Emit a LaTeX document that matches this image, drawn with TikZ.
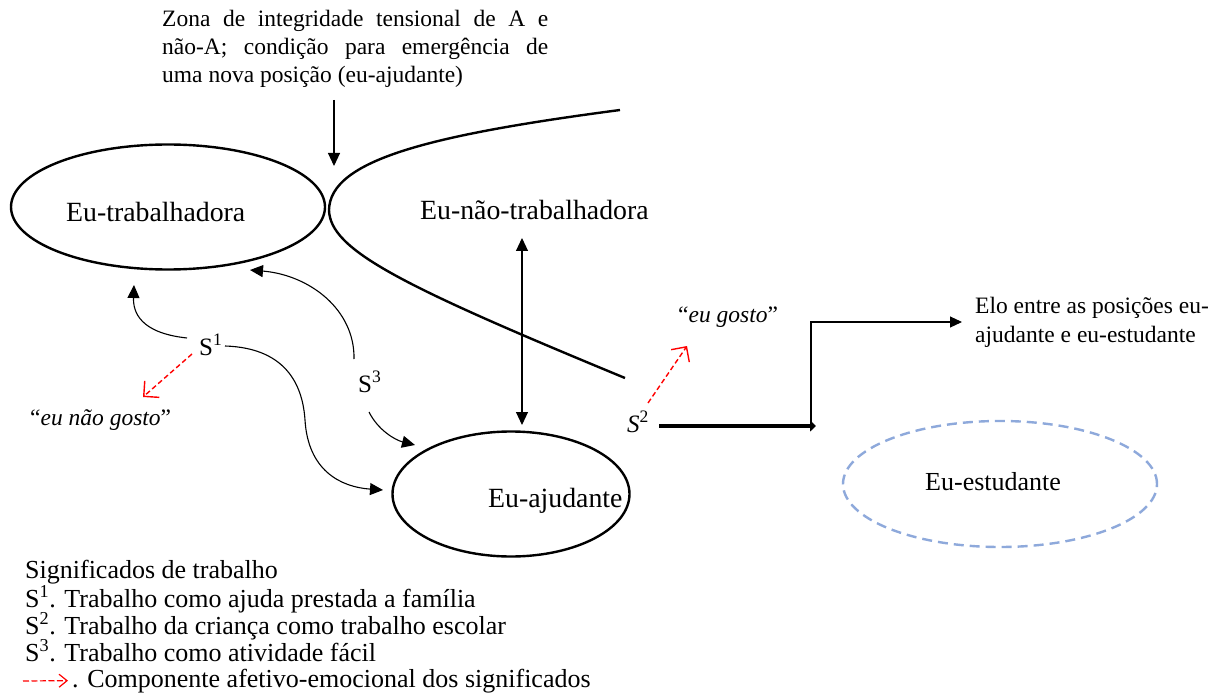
\documentclass[tikz,border=0pt]{standalone}
\usepackage{fontspec}
\setmainfont{Liberation Serif}
\usetikzlibrary{arrows.meta,shapes.geometric}
\definecolor{estblue}{RGB}{142,169,219}
\tikzset{
  selfpos/.style={draw, ellipse, line width=2.4pt, inner sep=0pt},
  plain/.style={inner sep=0pt, anchor=base west},
  txtA/.style={font=\fontsize{23.5}{28}\selectfont},
  txtB/.style={font=\fontsize{26}{28}\selectfont},
  txtC/.style={font=\fontsize{27.8}{30}\selectfont},
  txtS/.style={font=\fontsize{25}{28}\selectfont},
  link/.style={line width=1.1pt, -{Triangle[length=13pt,width=12pt]}},
  affect/.style={red, line width=1.4pt, dash pattern=on 5pt off 3pt,
    -{Straight Barb[length=11pt,width=22pt]}},
}
\begin{document}
\begin{tikzpicture}[x=1pt,y=-1pt]
\useasboundingbox (0,0) rectangle (1224,695);
\fill[white] (0,0) rectangle (1224,695);

% self positions
\node[selfpos, minimum width=314pt, minimum height=125pt] (trab) at (168,207) {};
\node[plain, txtC] (trabtxt) at (66,222) {Eu-trabalhadora};
\node[plain, txtC] (naotrab) at (420,220) {Eu-não-trabalhadora};
\node[selfpos, minimum width=237pt, minimum height=125pt] (ajud) at (511,494) {};
\node[plain, txtC] (ajudtxt) at (488,507) {Eu-ajudante};
\node[selfpos, draw=estblue, dash pattern=on 10pt off 6pt,
      minimum width=314pt, minimum height=126pt] (estud) at (1000,484) {};
\node[plain, txtB] (estudtxt) at (925,490) {Eu-estudante};

% open boundary of the non-worker position
\coordinate (bndtop) at (620,110);
\coordinate (bndvertex) at (329,210);
\coordinate (bndbottom) at (625,378);
\draw[line width=2.4pt] (bndtop) .. controls (430,135) and (330,160) .. (bndvertex)
  .. controls (330,250) and (400,285) .. (bndbottom);

% zone of tension
\node[plain, txtA] (zona1) at (162,27) {\makebox[386pt][s]{Zona de integridade tensional de A e}};
\node[plain, txtA] (zona2) at (162,55) {\makebox[386pt][s]{não-A; condição para emergência de}};
\node[plain, txtA] (zona3) at (162,83) {uma nova posição (eu-ajudante)};
\coordinate (zonafrom) at (334,100);
\coordinate (zonatip) at (334,166);
\draw[link] (zonafrom) -- (zonatip);

% link between non-worker and helper
\coordinate (dtop) at (522,238);
\coordinate (dbot) at (522,425);
\draw[line width=1.1pt, {Triangle[length=13pt,width=12pt]}-{Triangle[length=13pt,width=12pt]}] (dtop) -- (dbot);

% meanings
\node[plain, txtS] (s1) at (199,355) {S\textsuperscript{1}};
\node[plain, txtS] (s3) at (358,392) {S\textsuperscript{3}};
\node[plain, txtS] (s2) at (627,432) {\textit{S}\textsuperscript{2}};

\coordinate (s1a) at (187,338);
\coordinate (s1atip) at (134,285);
\coordinate (s1b) at (225,346);
\coordinate (s1btip) at (383,490);
\coordinate (s3a) at (354,359);
\coordinate (s3atip) at (250,270);
\coordinate (s3b) at (369,412);
\coordinate (s3btip) at (415,445);
\draw[link] (s1a) .. controls (140,333) and (133,312) .. (s1atip);
\draw[link] (s1b) .. controls (290,348) and (303,390) .. (305,420)
  .. controls (308,470) and (340,487) .. (s1btip);
\draw[link] (s3a) .. controls (355,310) and (310,275) .. (s3atip);
\draw[link] (s3b) .. controls (378,430) and (395,440) .. (s3btip);

% affective components
\node[plain, txtA] (naogosto) at (30,425) {“\textit{eu não gosto}”};
\node[plain, txtA] (gosto) at (678,323) {“\textit{eu gosto}”};
\coordinate (r1a) at (192,354);
\coordinate (r1b) at (143,397);
\coordinate (r2a) at (648,403);
\coordinate (r2b) at (687,346);
\draw[affect] (r1a) -- (r1b);
\draw[affect] (r2a) -- (r2b);

% link towards the student position
\coordinate (thickfrom) at (659,426);
\coordinate (thickto) at (816,426);
\draw[line width=4pt, -{Triangle[length=6pt,width=11pt]}] (thickfrom) -- (thickto);
\node[plain, txtA] (elo1) at (975,313) {Elo entre as posições eu-};
\node[plain, txtA] (elo2) at (975,342) {ajudante e eu-estudante};
\coordinate (elbowfrom) at (811,427);
\coordinate (elbowtip) at (962,322);
\draw[line width=1.1pt, -{Triangle[length=12pt,width=11pt]}] (elbowfrom) |- (elbowtip);

% legend
\node[plain, txtB] (leg0) at (25,578) {Significados de trabalho};
\node[plain, txtB] (leg1) at (25,607) {S\textsuperscript{1}. Trabalho como ajuda prestada a família};
\node[plain, txtB] (leg2) at (25,634) {S\textsuperscript{2}. Trabalho da criança como trabalho escolar};
\node[plain, txtB] (leg3) at (25,661) {S\textsuperscript{3}. Trabalho como atividade fácil};
\node[plain, txtB] (leg4) at (72,687) {. Componente afetivo-emocional dos significados};
\coordinate (legstart) at (23,681);
\draw[red, line width=1.2pt, dash pattern=on 6pt off 2.5pt,
  -{Straight Barb[length=8pt,width=13pt]}] (legstart) -- ([xshift=-4pt]leg4.west);
\end{tikzpicture}
\end{document}
